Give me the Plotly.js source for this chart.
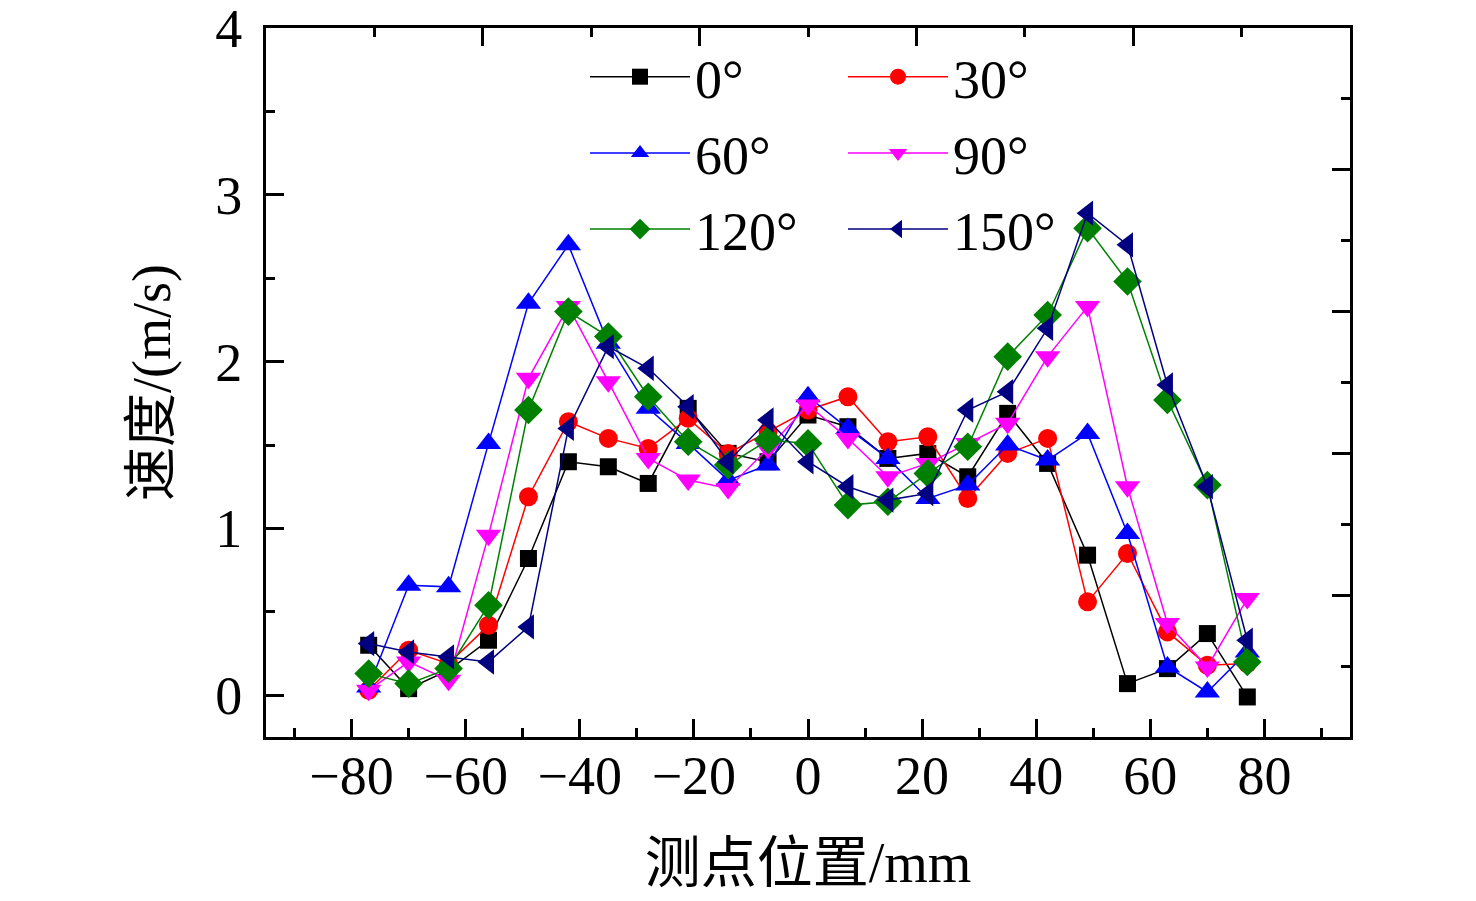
<!DOCTYPE html>
<html>
<head>
<meta charset="utf-8">
<script src="https://cdn.plot.ly/plotly-3.0.1.min.js"></script>
<style>html,body{margin:0;padding:0;background:#fff;}#chart{width:1476px;height:901px;}</style>
</head>
<body>
<div id="chart"></div>
<script>
const positions = [-77,-70,-63,-56,-49,-42,-35,-28,-21,-14,-7,0,7,14,21,28,35,42,49,56,63,70,77];
const v0   = [0.30,0.04,0.15,0.33,0.82,1.40,1.37,1.27,1.72,1.45,1.40,1.68,1.61,1.42,1.45,1.31,1.69,1.39,0.84,0.07,0.16,0.37,-0.01];
const v30  = [0.03,0.27,0.19,0.42,1.19,1.64,1.54,1.48,1.66,1.45,1.58,1.71,1.79,1.52,1.55,1.18,1.45,1.54,0.56,0.85,0.38,0.18,0.19];
const v60  = [0.05,0.66,0.65,1.51,2.35,2.70,2.11,1.72,1.51,1.29,1.38,1.79,1.60,1.42,1.18,1.26,1.50,1.41,1.57,0.97,0.17,0.02,0.26];
const v90  = [0.03,0.20,0.09,0.96,1.90,2.33,1.88,1.42,1.29,1.24,1.48,1.74,1.54,1.31,1.39,1.51,1.63,2.03,2.33,1.25,0.43,0.17,0.58];
const v120 = [0.13,0.07,0.16,0.54,1.71,2.30,2.15,1.79,1.52,1.38,1.53,1.51,1.14,1.16,1.33,1.49,2.03,2.28,2.80,2.48,1.77,1.26,0.20];
const v150 = [0.31,0.26,0.23,0.20,0.41,1.60,2.09,1.96,1.73,1.40,1.65,1.40,1.25,1.17,1.21,1.71,1.82,2.20,2.89,2.70,1.86,1.25,0.33];
const seriesNames = ['0°','30°','60°','90°','120°','150°'];
const xTickVals = [-80,-60,-40,-20,0,20,40,60,80];
const xTickText = ['\u221280','\u221260','\u221240','\u221220','0','20','40','60','80'];
const yTickVals = [0,1,2,3,4];
const yTickText = ['0','1','2','3','4'];

const FONT = 'Liberation Serif, Times New Roman, Noto Sans CJK SC, serif';
const styles = [
  {color:'#000000', symbol:'square', size:17, legend:'legend'},
  {color:'#FF0000', symbol:'circle', size:19, legend:'legend2'},
  {color:'#0000FF', symbol:'triangle-up', size:22, legend:'legend'},
  {color:'#FF00FF', symbol:'triangle-down', size:22, legend:'legend2'},
  {color:'#008000', symbol:'diamond', size:22, legend:'legend'},
  {color:'#000080', symbol:'triangle-left', size:22, legend:'legend2'}
];
const values = [v0, v30, v60, v90, v120, v150];

const data = values.map((v, i) => ({
  type:'scatter', mode:'lines+markers',
  x: positions, y: v, name: seriesNames[i],
  legend: styles[i].legend, legendgroup: 'g'+i,
  line:{color:styles[i].color, width:1.5},
  marker:{color:styles[i].color, symbol:styles[i].symbol, size:styles[i].size, line:{width:0}}
}));
data.push({type:'scatter', x:[], y:[], xaxis:'x2', yaxis:'y2', showlegend:false, hoverinfo:'skip'});

const legendBase = {
  font:{family:FONT, size:54, color:'#000'},
  bgcolor:'rgba(0,0,0,0)', borderwidth:0,
  xanchor:'left', yanchor:'top', y:0.99,
  traceorder:'grouped', tracegroupgap:3, itemwidth:100
};

const layout = {
  width:1476, height:901,
  margin:{l:266, r:126, t:28, b:164},
  paper_bgcolor:'#fff', plot_bgcolor:'#fff',
  font:{family:FONT, color:'#000'},
  showlegend:true,
  legend: Object.assign({}, legendBase, {x:0.2943}),
  legend2: Object.assign({}, legendBase, {x:0.5323}),
  xaxis:{
    range:[-95,95], tickmode:'array', tickvals:xTickVals, ticktext:xTickText,
    ticks:'inside', ticklen:18, tickwidth:3, tickcolor:'#000',
    minor:{dtick:10, tick0:0, ticks:'inside', ticklen:9, tickwidth:3, tickcolor:'#000'},
    showline:true, linewidth:3, linecolor:'#000', mirror:false,
    showgrid:false, zeroline:false,
    tickfont:{family:FONT, size:54, color:'#000'},
    ticklabelstandoff:-11, ticklabeloverflow:'allow',
    title:{text:'测点位置/mm', font:{family:FONT, size:56, color:'#000'}, standoff:39}
  },
  yaxis:{
    range:[-0.25,4], tickmode:'array', tickvals:yTickVals, ticktext:yTickText,
    ticks:'inside', ticklen:18, tickwidth:3, tickcolor:'#000',
    minor:{dtick:0.5, tick0:0, ticks:'inside', ticklen:9, tickwidth:3, tickcolor:'#000'},
    showline:true, linewidth:3, linecolor:'#000', mirror:false,
    showgrid:false, zeroline:false,
    tickfont:{family:FONT, size:54, color:'#000'},
    ticklabelstandoff:10, ticklabeloverflow:'allow',
    title:{text:'速度/(m/s)', font:{family:FONT, size:54, color:'#000'}, standoff:28}
  },
  xaxis2:{
    overlaying:'x', side:'top', anchor:'y2', range:[0,10], dtick:2, tick0:0,
    ticks:'inside', ticklen:18, tickwidth:3, tickcolor:'#000',
    minor:{dtick:1, ticks:'inside', ticklen:9, tickwidth:3, tickcolor:'#000'},
    showline:true, linewidth:3, linecolor:'#000', showticklabels:false,
    showgrid:false, zeroline:false
  },
  yaxis2:{
    overlaying:'y', side:'right', anchor:'x2', range:[0,10], dtick:2, tick0:0,
    ticks:'inside', ticklen:18, tickwidth:3, tickcolor:'#000',
    minor:{dtick:1, ticks:'inside', ticklen:9, tickwidth:3, tickcolor:'#000'},
    showline:true, linewidth:3, linecolor:'#000', showticklabels:false,
    showgrid:false, zeroline:false
  }
};

Plotly.newPlot('chart', data, layout, {staticPlot:true, displayModeBar:false});
</script>
</body>
</html>
